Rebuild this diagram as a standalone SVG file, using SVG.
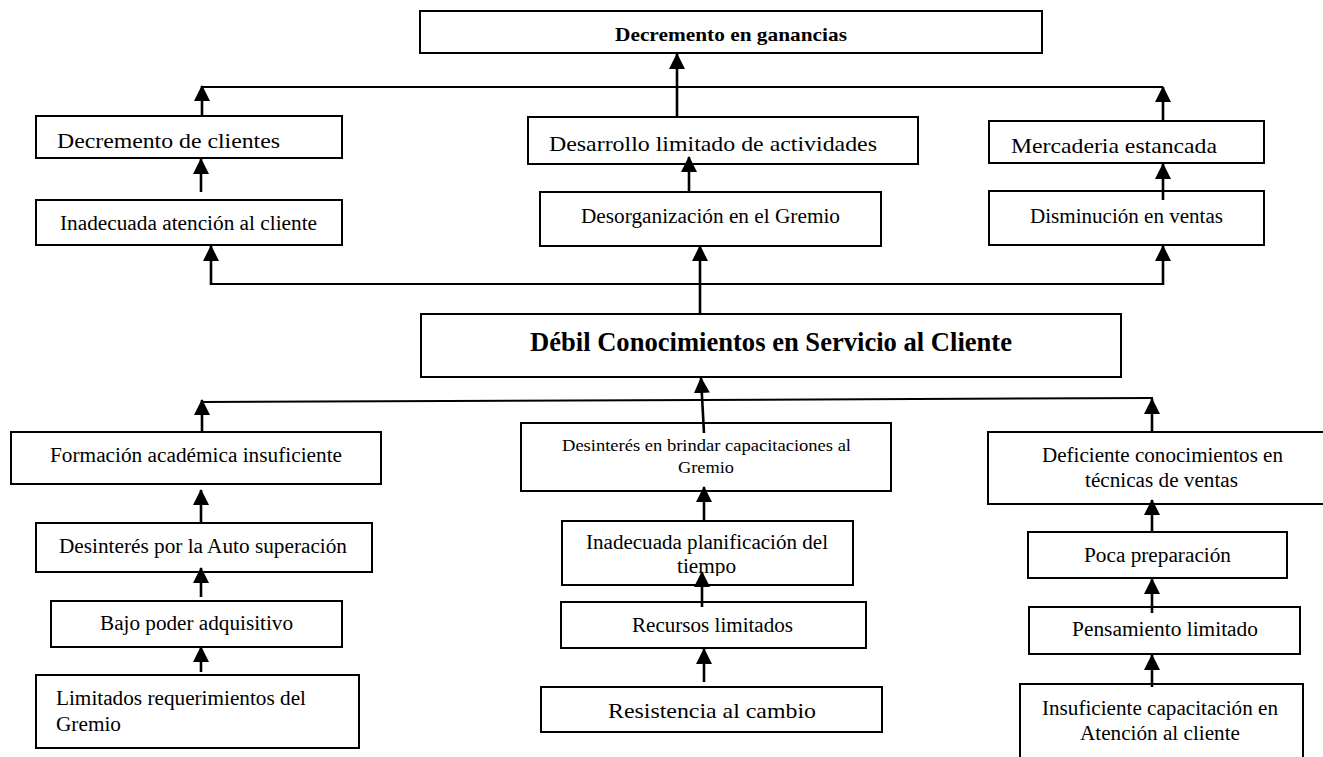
<svg xmlns="http://www.w3.org/2000/svg" width="1323" height="757" viewBox="0 0 1323 757">
<style>
.box{fill:#fff;stroke:#000;stroke-width:2}
.t{font-family:"Liberation Serif","Times New Roman",serif;font-size:20px;fill:#000}
.big{font-size:22px}
.sm{font-size:17px}
.b{font-weight:bold}
.arr{stroke:#000;stroke-width:2.6;fill:none;marker-end:url(#ah)}
.hl{stroke:#000;stroke-width:2;fill:none}
</style>
<defs>
<marker id="ah" markerUnits="userSpaceOnUse" markerWidth="16" markerHeight="16" viewBox="0 0 16 16" refX="15" refY="8" orient="auto">
<path d="M0,0 L16,8 L0,16 z" fill="#000"/>
</marker>
<clipPath id="clipPlan"><rect x="562" y="521" width="291" height="55"/></clipPath>
</defs>
<rect width="1323" height="757" fill="#fff"/>

<g id="n-ganancias"><rect class="box" x="420" y="11" width="622" height="42"/><text class="t b" style="font-size:19.5px" x="615" y="41" textLength="232" lengthAdjust="spacingAndGlyphs">Decremento en ganancias</text></g>
<g id="n-clientes"><rect class="box" x="36" y="116" width="306" height="42"/><text class="t big" x="57" y="148" textLength="223" lengthAdjust="spacingAndGlyphs">Decremento de clientes</text></g>
<g id="n-inadecuada"><rect class="box" x="36" y="200" width="306" height="45"/><text class="t" x="60" y="230" textLength="257" lengthAdjust="spacingAndGlyphs">Inadecuada atención al cliente</text></g>
<g id="n-desarrollo"><rect class="box" x="528" y="117" width="390" height="47"/><text class="t big" x="549" y="151" textLength="328" lengthAdjust="spacingAndGlyphs">Desarrollo limitado de actividades</text></g>
<g id="n-desorg"><rect class="box" x="540" y="192" width="341" height="54"/><text class="t" x="581" y="223" textLength="259" lengthAdjust="spacingAndGlyphs">Desorganización en el Gremio</text></g>
<g id="n-mercaderia"><rect class="box" x="989" y="121" width="275" height="42"/><text class="t big" x="1011" y="153" textLength="206" lengthAdjust="spacingAndGlyphs">Mercaderia estancada</text></g>
<g id="n-disminucion"><rect class="box" x="989" y="191" width="275" height="54"/><text class="t" x="1030" y="223" textLength="193" lengthAdjust="spacingAndGlyphs">Disminución en ventas</text></g>

<g id="n-debil"><rect class="box" x="421" y="314" width="700" height="63"/><text class="t b" style="font-size:28px" x="530" y="351" textLength="482" lengthAdjust="spacingAndGlyphs">Débil Conocimientos en Servicio al Cliente</text></g>

<g id="n-formacion"><rect class="box" x="11" y="432" width="370" height="52"/><text class="t" x="50" y="462" textLength="292" lengthAdjust="spacingAndGlyphs">Formación académica insuficiente</text></g>
<g id="n-desinteres-cap"><rect class="box" x="521" y="423" width="370" height="68"/><text class="t sm" x="562" y="451" textLength="289" lengthAdjust="spacingAndGlyphs">Desinterés en brindar capacitaciones al</text><text class="t sm" x="678" y="473" textLength="56" lengthAdjust="spacingAndGlyphs">Gremio</text></g>
<g id="n-deficiente"><rect class="box" x="988" y="432" width="345" height="72"/><text class="t" x="1042" y="462" textLength="241" lengthAdjust="spacingAndGlyphs">Deficiente conocimientos en</text><text class="t" x="1085" y="487" textLength="153" lengthAdjust="spacingAndGlyphs">técnicas de ventas</text></g>

<g id="n-desinteres-auto"><rect class="box" x="36" y="523" width="336" height="49"/><text class="t" x="59" y="553" textLength="288" lengthAdjust="spacingAndGlyphs">Desinterés por la Auto superación</text></g>
<g id="n-bajo"><rect class="box" x="51" y="601" width="291" height="46"/><text class="t" x="100" y="630" textLength="193" lengthAdjust="spacingAndGlyphs">Bajo poder adquisitivo</text></g>
<g id="n-limitados"><rect class="box" x="36" y="675" width="323" height="73"/><text class="t" x="56" y="705" textLength="250" lengthAdjust="spacingAndGlyphs">Limitados requerimientos del</text><text class="t" x="56" y="731" textLength="65" lengthAdjust="spacingAndGlyphs">Gremio</text></g>

<g id="n-planificacion"><rect class="box" x="562" y="521" width="291" height="64"/><g clip-path="url(#clipPlan)"><text class="t" x="586" y="549" textLength="242" lengthAdjust="spacingAndGlyphs">Inadecuada planificación del</text><text class="t" x="677" y="573" textLength="59" lengthAdjust="spacingAndGlyphs">tiempo</text></g></g>
<g id="n-recursos"><rect class="box" x="561" y="602" width="305" height="46"/><text class="t" x="632" y="632" textLength="161" lengthAdjust="spacingAndGlyphs">Recursos limitados</text></g>
<g id="n-resistencia"><rect class="box" x="541" y="687" width="341" height="45"/><text class="t big" x="608" y="718" textLength="208" lengthAdjust="spacingAndGlyphs">Resistencia al cambio</text></g>

<g id="n-poca"><rect class="box" x="1028" y="532" width="259" height="46"/><text class="t" x="1084" y="562" textLength="147" lengthAdjust="spacingAndGlyphs">Poca preparación</text></g>
<g id="n-pensamiento"><rect class="box" x="1029" y="607" width="271" height="47"/><text class="t" x="1072" y="636" textLength="186" lengthAdjust="spacingAndGlyphs">Pensamiento limitado</text></g>
<g id="n-insuficiente"><rect class="box" x="1020" y="684" width="283" height="85"/><text class="t" x="1042" y="715" textLength="236" lengthAdjust="spacingAndGlyphs">Insuficiente capacitación en</text><text class="t" x="1080" y="740" textLength="160" lengthAdjust="spacingAndGlyphs">Atención al cliente</text></g>

<g id="connectors">
<path class="hl" d="M202,87 H1163"/>
<path class="arr" d="M677,117 V54"/>
<path class="arr" d="M202,116 V86"/>
<path class="arr" d="M1163,121 V87"/>
<path class="arr" d="M201,192 V159"/>
<path class="arr" d="M689,192 V157"/>
<path class="arr" d="M1163,200 V164"/>

<path class="hl" d="M211,284 H1163"/>
<path class="arr" d="M700,314 V246"/>
<path class="arr" d="M211,285 V246"/>
<path class="arr" d="M1163,285 V246"/>

<path class="hl" d="M202,402 L1153,398"/>
<path class="arr" d="M202,432 V400"/>
<path class="arr" d="M704,433 L701,378"/>
<path class="arr" d="M1152,432 V399"/>

<path class="arr" d="M201,523 V490"/>
<path class="arr" d="M201,597 V568"/>
<path class="arr" d="M201,672 V647"/>

<path class="arr" d="M704,521 V487"/>
<path class="arr" d="M702,607 V572"/>
<path class="arr" d="M704,682 V649"/>

<path class="arr" d="M1152,532 V500"/>
<path class="arr" d="M1152,613 V579"/>
<path class="arr" d="M1152,687 V655"/>
</g>
</svg>
